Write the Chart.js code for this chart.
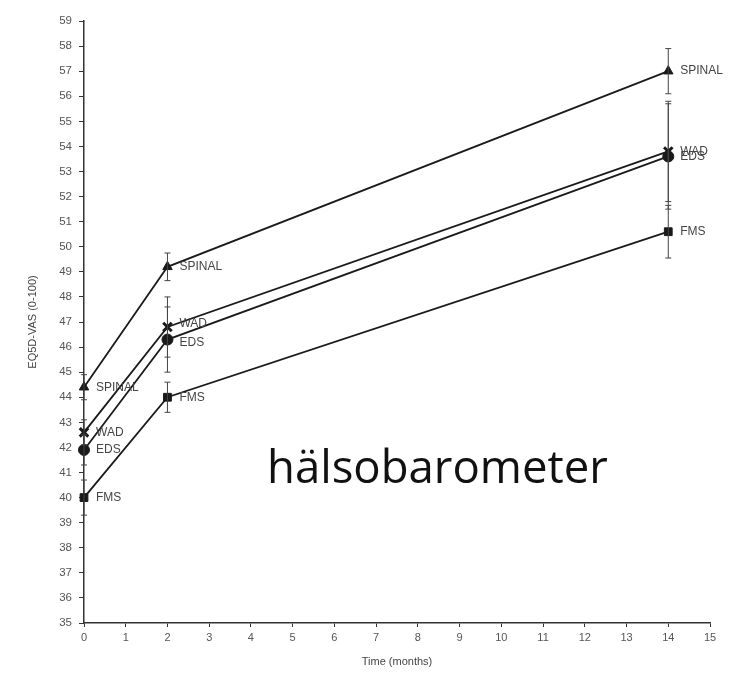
<!DOCTYPE html>
<html>
<head>
<meta charset="utf-8">
<script src="https://cdn.jsdelivr.net/npm/chart.js@4"></script>
<style>
  html, body { margin: 0; padding: 0; background: #fff; }
  #wrap { position: relative; width: 744px; height: 673px; }
  #overlay {
    position: absolute; left: 267px; top: 434px;
    font-family: 'Open Sans', sans-serif; font-size: 45.5px; color: #111;
    white-space: nowrap;
  }
</style>
</head>
<body>
<div id="wrap">
  <canvas id="chart" width="744" height="673"></canvas>
  <div id="overlay">hälsobarometer</div>
</div>
<script>
const months = [0, 2, 14];
const seriesNames = ['SPINAL', 'WAD', 'EDS', 'FMS'];
const spinal = [44.4, 49.2, 57.0];
const wad = [42.6, 46.8, 53.8];
const eds = [41.9, 46.3, 53.6];
const fms = [40.0, 44.0, 50.6];
const spinalErr = [0.5, 0.55, 0.9];
const wadErr = [0.5, 1.2, 2.0];
const edsErr = [0.6, 1.3, 2.1];
const fmsErr = [0.7, 0.6, 1.05];
const markers = ['triangle', 'crossRot', 'circle', 'rect'];

const allValues = [spinal, wad, eds, fms];
const allErrs = [spinalErr, wadErr, edsErr, fmsErr];

function toPoints(vals) {
  return months.map(function(m, i) { return { x: m, y: vals[i] }; });
}

const datasets = allValues.map(function(vals, k) {
  return {
    label: seriesNames[k],
    data: toPoints(vals),
    borderColor: '#1a1a1a',
    backgroundColor: '#1a1a1a',
    borderWidth: 1.8,
    pointStyle: markers[k],
    pointRadius: markers[k] === 'crossRot' ? 6 : 5.5,
    pointBorderWidth: markers[k] === 'crossRot' ? 3 : 1,
    tension: 0,
    clip: false
  };
});

// error bars and point labels, placed through the chart scales
const extras = {
  id: 'extras',
  afterDatasetsDraw(chart) {
    const ctx = chart.ctx;
    const xs = chart.scales.x, ys = chart.scales.y;
    ctx.save();
    ctx.strokeStyle = '#444';
    ctx.lineWidth = 1;
    allValues.forEach(function(vals, k) {
      months.forEach(function(m, i) {
        const px = xs.getPixelForValue(m);
        const top = ys.getPixelForValue(vals[i] + allErrs[k][i]);
        const bot = ys.getPixelForValue(vals[i] - allErrs[k][i]);
        ctx.beginPath();
        ctx.moveTo(px, top); ctx.lineTo(px, bot);
        ctx.moveTo(px - 3, top); ctx.lineTo(px + 3, top);
        ctx.moveTo(px - 3, bot); ctx.lineTo(px + 3, bot);
        ctx.stroke();
      });
    });
    ctx.fillStyle = '#444';
    ctx.font = '12px "Liberation Sans", Arial, sans-serif';
    ctx.textBaseline = 'middle';
    ctx.textAlign = 'left';
    allValues.forEach(function(vals, k) {
      months.forEach(function(m, i) {
        let dy = 0;
        if (i === 1 && k === 1) dy = -3;
        if (i === 1 && k === 2) dy = 3;
        ctx.fillText(seriesNames[k], xs.getPixelForValue(m) + 12, ys.getPixelForValue(vals[i]) + dy);
      });
    });
    ctx.restore();
  }
};

new Chart(document.getElementById('chart'), {
  type: 'line',
  data: { datasets: datasets },
  plugins: [extras],
  options: {
    responsive: false,
    animation: false,
    layout: { padding: { top: 21, right: 34, left: 0, bottom: 0 } },
    plugins: { legend: { display: false }, tooltip: { enabled: false } },
    scales: {
      x: {
        type: 'linear', min: 0, max: 15,
        afterFit: function(s) { s.height = 50; },
        ticks: { stepSize: 1, color: '#555', font: { size: 11, family: 'Liberation Sans' }, padding: 4 },
        grid: { drawOnChartArea: false, color: '#333', tickLength: 4 },
        border: { color: '#333', width: 1.5 },
        title: { display: true, text: 'Time (months)', color: '#444', font: { size: 11, family: 'Liberation Sans' }, padding: { top: 2 } }
      },
      y: {
        min: 35, max: 59,
        afterFit: function(s) { s.width = 84; },
        ticks: { stepSize: 1, color: '#555', font: { size: 11.5, family: 'Liberation Sans' }, padding: 7 },
        grid: { drawOnChartArea: false, color: '#333', tickLength: 5 },
        border: { color: '#333', width: 1.5 },
        title: { display: true, text: 'EQ5D-VAS (0-100)', color: '#444', font: { size: 11, family: 'Liberation Sans' }, padding: { top: 26, bottom: 4 } }
      }
    }
  }
});
</script>
</body>
</html>
